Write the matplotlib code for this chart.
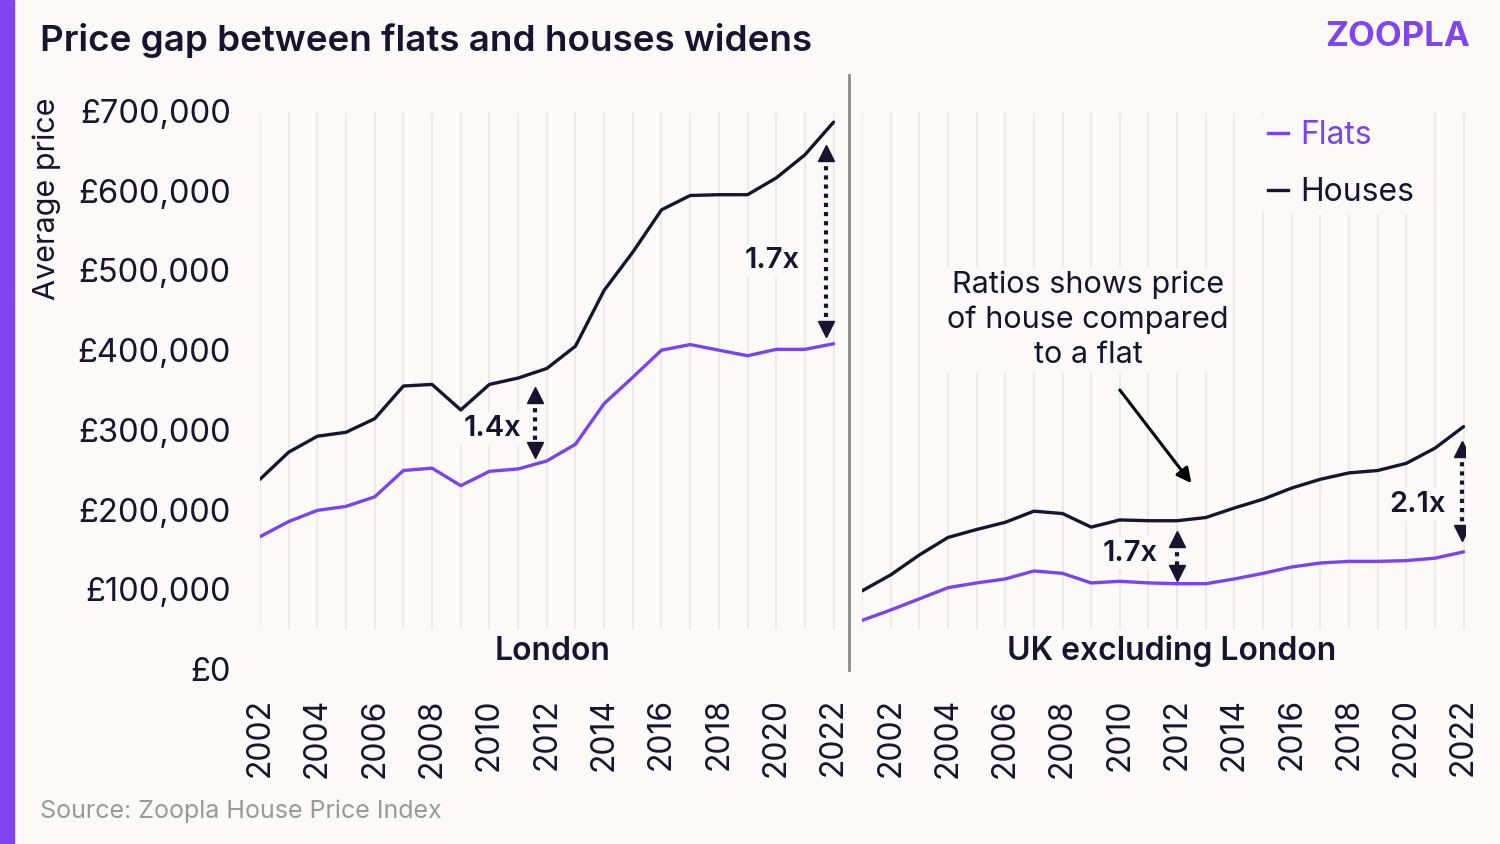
import matplotlib
matplotlib.use("Agg")
import matplotlib.pyplot as plt
from matplotlib.lines import Line2D
from matplotlib.patches import Rectangle

# ===[ Data ]==================================================================
london_years = list(range(2002, 2023))
london_houses = [238, 272, 292, 297, 314, 355, 357, 325, 357, 365, 377,
                 405, 475, 523, 576, 594, 595, 595, 616, 645, 686]
london_flats = [166, 185, 199, 204, 216, 249, 252, 230, 248, 251, 261,
                282, 333, 366, 400, 407, 400, 393, 401, 401, 408]

uk_years = list(range(2001, 2023))
uk_houses = [98, 118, 143, 165, 175, 184, 198, 195, 178, 187, 186,
             186, 190, 202, 213, 227, 238, 246, 249, 258, 277, 304]
uk_flats = [61, 74, 88, 102, 108, 113, 123, 120, 108, 110, 108,
            107, 107, 113, 120, 128, 133, 135, 135, 136, 139, 147]

tick_years = list(range(2002, 2023, 2))
price_ticks = list(range(0, 700001, 100000))

# ratio annotations: (year, top, bottom, label, label_x, label_y, ha)
london_ratios = [(2011.6, 353, 266, "1.4x", 2011.1, 302, "right"),
                 (2021.75, 656, 418, "1.7x", 2019.85, 512, "center")]
uk_ratios = [(2012.0, 172, 112, "1.7x", 2010.35, 145, "center"),
             (2021.95, 285, 162, "2.1x", 2020.4, 206, "center")]

# ===[ Style ]=================================================================
BG = "#FBFAF9"
PURPLE = "#7B42F0"
DARK = "#1B1230"
GRID = "#EAE8E6"
plt.rcParams['font.family'] = ['Inter', 'DejaVu Sans']

fig = plt.figure(figsize=(15, 8.44), dpi=100, facecolor=BG)
ax_l = fig.add_axes([260 / 1500, 1 - 669 / 844, 575 / 1500, 558 / 844])
ax_r = fig.add_axes([862 / 1500, 1 - 669 / 844, 603 / 1500, 558 / 844])


def k(v):
    return [x * 1000 for x in v]


def draw_panel(ax, years, houses, flats, ratios, xlim):
    ax.set_facecolor(BG)
    ax.vlines(years, 50000, 698000, color=GRID, lw=1.2, zorder=0)
    ax.plot(years, k(flats), color=PURPLE, lw=2.4, label="Flats",
            solid_capstyle="round", zorder=3)
    ax.plot(years, k(houses), color=DARK, lw=2.4, label="Houses",
            solid_capstyle="round", zorder=3)
    for x, top, bot, label, lx, ly, ha in ratios:
        ax.plot([x, x], [top * 1000 - 14000, bot * 1000 + 14000], color=DARK,
                lw=3, ls=(0, (1, 1.2)), zorder=4)
        ax.plot([x], [top * 1000 - 9000], marker="^", ms=11, color=DARK,
                zorder=4)
        ax.plot([x], [bot * 1000 + 9000], marker="v", ms=11, color=DARK,
                zorder=4)
        ax.text(lx, ly * 1000, label, ha=ha, va="center", fontsize=21,
                fontweight="semibold", color=DARK, zorder=5,
                bbox=dict(facecolor=BG, edgecolor="none", pad=2))
    ax.set_xlim(*xlim)
    ax.set_ylim(0, 700000)
    ax.set_xticks(tick_years)
    ax.set_xticklabels([str(y) for y in tick_years], rotation=90,
                       fontsize=23, color=DARK)
    ax.tick_params(axis="x", length=0, pad=21)
    for s in ax.spines.values():
        s.set_visible(False)


draw_panel(ax_l, london_years, london_houses, london_flats, london_ratios,
           (2002, 2022.05))
draw_panel(ax_r, uk_years, uk_houses, uk_flats, uk_ratios, (2001, 2022.05))

ax_l.set_yticks(price_ticks)
ax_l.set_yticklabels([f"£{v:,}" for v in price_ticks], fontsize=23.5,
                     color=DARK)
ax_l.tick_params(axis="y", length=0, pad=21)
ax_r.set_yticks([])

ax_l.text(0.508, 0.032, "London", transform=ax_l.transAxes, ha="center",
          va="center", fontsize=23, fontweight="semibold", color=DARK)
ax_r.text(0.513, 0.032, "UK excluding London", transform=ax_r.transAxes,
          ha="center", va="center", fontsize=23, fontweight="semibold",
          color=DARK, bbox=dict(facecolor=BG, edgecolor="none", pad=2))

# note with arrow
ax_r.text(2008.9, 438000, "Ratios shows price\nof house compared\nto a flat",
          ha="center", va="center", fontsize=22, color=DARK,
          linespacing=1.3, zorder=5,
          bbox=dict(facecolor=BG, edgecolor="none", pad=2))
ax_r.annotate("", xy=(2012.5, 233000), xytext=(2010.0, 350000),
              arrowprops=dict(arrowstyle="-|>", color="black", lw=2.2,
                              mutation_scale=22, shrinkA=0, shrinkB=0))

leg = ax_r.legend(handles=[Line2D([], [], color=PURPLE, lw=2.4),
                           Line2D([], [], color=DARK, lw=2.4)],
                  labels=["Flats", "Houses"], loc="upper left",
                  bbox_to_anchor=(1262 / 1500, 1 - 114 / 844),
                  bbox_transform=fig.transFigure, frameon=True,
                  fontsize=23, handlelength=0.6, handletextpad=0.4,
                  labelspacing=0.8, borderpad=0.2, borderaxespad=0)
leg.get_frame().set_facecolor(BG)
leg.get_frame().set_edgecolor("none")
leg.get_frame().set_alpha(1)
for t, c in zip(leg.get_texts(), [PURPLE, DARK]):
    t.set_color(c)

# ===[ Frame, titles ]=========================================================
fig.patches.append(Rectangle((0, 0), 14 / 1500, 1, transform=fig.transFigure,
                             color="#7F45F1", zorder=10))
fig.add_artist(Line2D([849 / 1500, 849 / 1500], [1 - 75 / 844, 1 - 670 / 844],
                      color="#8A8A8A", lw=2))
fig.text(40 / 1500, 1 - 40 / 844, "Price gap between flats and houses widens",
         ha="left", va="center", fontsize=26.5, fontweight="semibold",
         color=DARK)
fig.text(1470 / 1500, 1 - 37 / 844, "ZOOPLA", ha="right", va="center",
         fontsize=25, fontweight="bold", color="#7F45F1")
fig.text(47 / 1500, 1 - 199 / 844, "Average price", rotation=90, ha="center",
         va="center", fontsize=22, color=DARK)
fig.text(40 / 1500, 1 - 811 / 844, "Source: Zoopla House Price Index",
         ha="left", va="center", fontsize=18, color="#9A9A9A")

fig.savefig("out.png", dpi=100, facecolor=BG)
